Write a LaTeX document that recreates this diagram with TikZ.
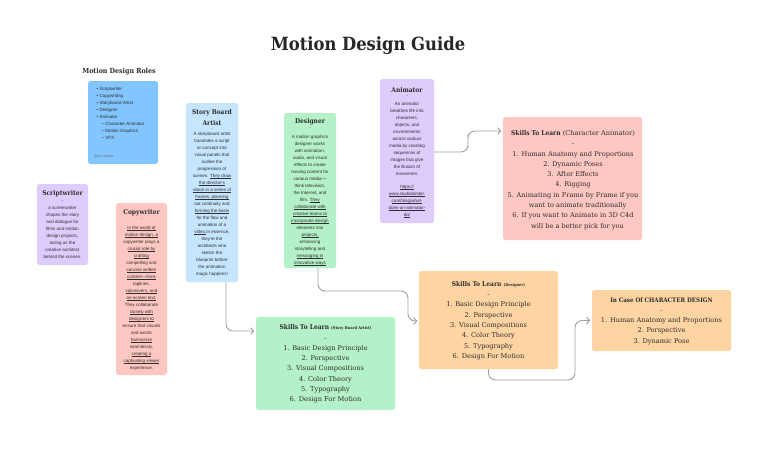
\documentclass[tikz,border=0pt]{standalone}
\usepackage{fontspec}
\setmainfont{Liberation Sans}
\newfontfamily\sfont{Liberation Sans}
\newfontfamily\rfont{DejaVu Serif Condensed}
\newfontfamily\rwfont{DejaVu Serif}
\usetikzlibrary{arrows.meta}
\definecolor{rolesblue}{RGB}{130,197,255}
\definecolor{lav}{RGB}{221,204,252}
\definecolor{pinkc}{RGB}{255,199,194}
\definecolor{lblue}{RGB}{198,229,255}
\definecolor{greenc}{RGB}{180,240,200}
\definecolor{peach}{RGB}{255,212,163}
\definecolor{linec}{RGB}{160,160,160}
\definecolor{txt}{RGB}{45,45,45}
\newcommand\uln[1]{\setbox0\hbox{#1}\rlap{\rule[-0.8pt]{\wd0}{0.22pt}}\box0}
\newcommand\bodyf{\sfont\fontsize{4.5}{7}\selectfont}
\newcommand\ttlf{\rfont\bfseries\fontsize{6.6}{10}\selectfont}
\newcommand\skf{\rwfont\fontsize{6.6}{10.3}\selectfont}
\newcommand\skb[1]{{\rfont\bfseries #1}}
\tikzset{
  box/.style={draw=none, rounded corners=2.5pt, inner sep=0pt},
  body/.style={font=\bodyf, align=center, inner sep=0pt, text=txt, anchor=north},
  ttl/.style={font=\ttlf, inner sep=0pt, text=txt, align=center},
  dsh/.style={font=\bodyf, inner sep=0pt, text=txt},
  sktext/.style={font=\skf, align=center, inner sep=0pt, text=txt},
  link/.style={draw=linec, line width=0.9pt, rounded corners=7pt, shorten >=1.5pt,
    -{Straight Barb[length=3pt,width=6.5pt]}}
}
\begin{document}
\begin{tikzpicture}[x=1pt,y=-1pt]
\useasboundingbox[fill=white] (0,0) rectangle (768,448);

% title
\node[font=\rfont\bfseries\fontsize{18.2}{21}\selectfont, text=black!85, inner sep=0pt] (title) at (368,46) {Motion Design Guide};

% roles
\node[font=\rfont\bfseries\fontsize{7}{8}\selectfont, text=txt, inner sep=0pt] (rolest) at (119,72) {Motion Design Roles};
\node[box, fill=rolesblue, minimum width=70pt, minimum height=83pt] (roles) at (123,122.5) {};
\node[font=\bodyf, align=left, inner sep=0pt, text=txt, anchor=north west] (rolesl) at (96.5,87)
 {\textbullet\ Scriptwriter\\ \textbullet\ Copywriting\\ \textbullet\ Storyboard Artist\\ \textbullet\ Designer\\ \textbullet\ Animator\\
  \hspace*{5pt}– Character Animator\\ \hspace*{5pt}– Motion Graphics\\ \hspace*{5pt}– VFX};
\node[font=\sfont\fontsize{3.4}{4}\selectfont, text=txt!70, inner sep=0pt, anchor=west] (rolesd) at (94,156) {Show details};

% scriptwriter
\node[box, fill=lav, minimum width=51pt, minimum height=81pt] (scr) at (62.5,224.5) {};
\node[ttl] (scrt) at (62.5,194) {Scriptwriter};
\node[dsh] (scrd) at (62.5,202) {-};
\node[body] (scrb) at (62.5,206) {a screenwriter\\shapes the story\\and dialogue for\\films and motion\\design projects,\\acting as the\\creative architect\\behind the scenes.};

% copywriter
\node[box, fill=pinkc, minimum width=51pt, minimum height=172pt] (copy) at (141.5,289) {};
\node[ttl] (copyt) at (141.5,213) {Copywriter};
\node[dsh] (copyd) at (141.5,220) {-};
\node[body] (copyb) at (141.5,226) {\uln{In the world of}\\ \uln{motion design, a}\\ copywriter plays a\\ \uln{crucial role by}\\ \uln{crafting}\\ compelling and\\ \uln{concise written}\\ \uln{content—think}\\ taglines,\\ \uln{voiceovers, and}\\ \uln{on-screen text.}\\ They collaborate\\ \uln{closely with}\\ \uln{designers to}\\ ensure that visuals\\ and words\\ \uln{harmonize}\\ seamlessly,\\ \uln{creating a}\\ \uln{captivating viewer}\\ experience.};

% story board artist
\node[box, fill=lblue, minimum width=52pt, minimum height=179pt] (sba) at (212,192.5) {};
\node[ttl] (sbat) at (212,113) {Story Board};
\node[ttl] (sbat2) at (212,123) {Artist};
\node[dsh] (sbad) at (212,130) {-};
\node[body] (sbab) at (212,132) {A storyboard artist\\ translates a script\\ or concept into\\ visual panels that\\ outline the\\ progression of\\ scenes. \uln{They draw}\\ \uln{the director's}\\ \uln{vision in a series of}\\ \uln{frames, planning}\\ out continuity and\\ \uln{forming the basis}\\ for the flow and\\ animation of a\\ \uln{video.} In essence,\\ they're the\\ architects who\\ sketch the\\ blueprint before\\ the animation\\ magic happens!};

% designer
\node[box, fill=greenc, minimum width=52pt, minimum height=155pt] (des) at (310,190.5) {};
\node[ttl] (dest) at (310,122) {Designer};
\node[dsh] (desd) at (310,129) {-};
\node[body] (desb) at (310,135) {A motion graphics\\ designer works\\ with animation,\\ audio, and visual\\ effects to create\\ moving content for\\ various media—\\ think television,\\ the Internet, and\\ film. \uln{They}\\ \uln{collaborate with}\\ \uln{creative teams to}\\ \uln{incorporate design}\\ elements into\\ \uln{projects,}\\ enhancing\\ storytelling and\\ \uln{messaging in}\\ \uln{innovative ways}};

% animator
\node[box, fill=lav, minimum width=54pt, minimum height=144pt] (ani) at (407,151) {};
\node[ttl] (anit) at (407,90) {Animator};
\node[dsh] (anid) at (407,97) {-};
\node[body] (anib) at (407,102) {An animator\\ breathes life into\\ characters,\\ objects, and\\ environments\\ across various\\ media by creating\\ sequences of\\ images that give\\ the illusion of\\ movement.\\[6pt] \uln{https://}\\ \uln{www.studiobinder.}\\ \uln{com/blog/what-}\\ \uln{does-an-animator-}\\ \uln{do/}};

% skills character animator
\node[box, fill=pinkc, minimum width=139pt, minimum height=123pt] (skca) at (572.5,178.5) {};
\node[sktext] (skcat) at (573,180) {\skb{Skills To Learn} (Character Animator)\\ -\\ 1. Human Anatomy and Proportions\\ 2. Dynamic Poses\\ 3. After Effects\\ 4. Rigging\\ 5. Animating in Frame by Frame if you\\ \phantom{5. }want to animate traditionally\\ 6. If you want to Animate in 3D C4d\\ \phantom{6. }will be a better pick for you};

% skills designer
\node[box, fill=peach, minimum width=139pt, minimum height=98pt] (skd) at (488.5,320) {};
\node[sktext] (skdt) at (488.5,320.5) {\skb{Skills To Learn} \skb{\fontsize{4}{5}\selectfont (Designer)}\\ -\\ 1. Basic Design Principle\\ 2. Perspective\\ 3. Visual Compositions\\ 4. Color Theory\\ 5. Typography\\ 6. Design For Motion};

% in case of character design
\node[box, fill=peach, minimum width=139pt, minimum height=61pt] (icd) at (661.5,320.5) {};
\node[sktext] (icdt) at (661.5,321) {\skb{\fontsize{6.2}{10.3}\selectfont In Case Of CHARACTER DESIGN}\\ -\\ 1. Human Anatomy and Proportions\\ 2. Perspective\\ 3. Dynamic Pose};

% skills story board
\node[box, fill=greenc, minimum width=139pt, minimum height=93pt] (sks) at (325.5,363.5) {};
\node[sktext] (skst) at (325.5,364) {\skb{Skills To Learn} \skb{\fontsize{4}{5}\selectfont (Story Board Artist)}\\ -\\ 1. Basic Design Principle\\ 2. Perspective\\ 3. Visual Compositions\\ 4. Color Theory\\ 5. Typography\\ 6. Design For Motion};

% connectors
\coordinate (k1) at (468,141);
\draw[link] ([yshift=-1pt]ani.east) -| (k1) |- ([yshift=47.5pt]skca.west);
\draw[link] ([xshift=14pt]sba.south) |- ([yshift=32.5pt]sks.west);
\coordinate (k2) at (408,291);
\draw[link] ([xshift=8pt]des.south) |- (k2) |- ([yshift=-1pt]skd.west);
\coordinate (k3) at (575,380);
\draw[link] (skd.south) |- (k3) |- (icd.west);
\end{tikzpicture}
\end{document}
